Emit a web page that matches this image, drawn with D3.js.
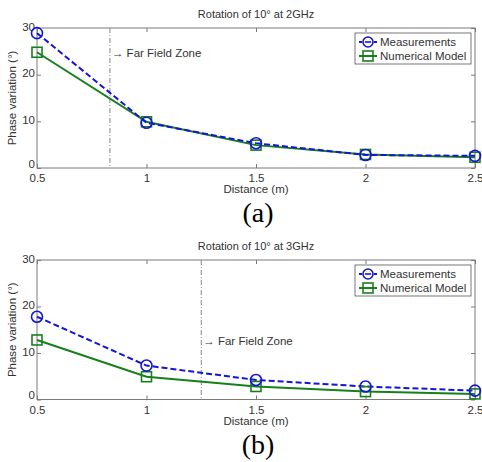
<!DOCTYPE html>
<html><head><meta charset="utf-8">
<script src="https://cdn.jsdelivr.net/npm/d3@7"></script>
<style>
body{margin:0;background:#fff;}
svg text{font-family:Arial,"Liberation Sans",sans-serif;}
</style></head>
<body><svg id="c" width="482" height="462"></svg>
<script>
const distances = [0.5, 1, 1.5, 2, 2.5];
const xTicks = [0.5, 1, 1.5, 2, 2.5];
const yTicks = [0, 10, 20, 30];
const meas2GHz = [28.9, 9.7, 5.3, 2.8, 2.6];
const model2GHz = [24.8, 9.9, 4.9, 2.9, 2.3];
const meas3GHz = [17.8, 7.3, 4.2, 2.8, 1.9];
const model3GHz = [12.8, 4.9, 2.8, 1.7, 1.2];
const titles = ["Rotation of 10\u00b0 at 2GHz", "Rotation of 10\u00b0 at 3GHz"];
const farField = [0.833, 1.25];
const captions = ["(a)", "(b)"];
const seriesNames = ["Measurements", "Numerical Model"];

const svg = d3.select("#c");
const blue = "#1515d8", green = "#17801a", axisCol = "#7a7a7a", txt = "#333";

function panel(top, bottom, meas, model, title, ff, caption) {
  const x = d3.scaleLinear().domain([0.5, 2.5]).range([37, 475]);
  const y = d3.scaleLinear().domain([0, 30]).range([bottom, top]);
  const g = svg.append("g");
  g.append("rect").attr("x", 37).attr("y", top).attr("width", 438).attr("height", bottom - top)
    .attr("fill", "#fff").attr("stroke", axisCol).attr("stroke-width", 1);
  const xa = g.append("g").attr("transform", `translate(0,${bottom})`)
    .call(d3.axisBottom(x).tickValues(xTicks).tickSize(-4).tickPadding(4).tickFormat(d3.format("")));
  const xt = g.append("g").attr("transform", `translate(0,${top})`)
    .call(d3.axisTop(x).tickValues(xTicks).tickSize(-4).tickFormat(""));
  const ya = g.append("g").attr("transform", `translate(37,0)`)
    .call(d3.axisLeft(y).tickValues(yTicks).tickSize(-4).tickPadding(2));
  const yr = g.append("g").attr("transform", `translate(475,0)`)
    .call(d3.axisRight(y).tickValues(yTicks).tickSize(-4).tickFormat(""));
  [xa, xt, ya, yr].forEach(a => {
    a.select(".domain").remove();
    a.selectAll("line").attr("stroke", axisCol);
    a.selectAll("text").attr("fill", txt).style("font-size", "11.5px");
  });
  xa.selectAll("text").attr("dy", "0.9em");
  ya.selectAll("text").attr("dy", "0.2em");
  ya.selectAll(".tick").filter(d => d === 0).select("text").attr("dy", "-0.05em");
  g.append("line").attr("x1", x(ff)).attr("x2", x(ff)).attr("y1", top).attr("y2", bottom)
    .attr("stroke", "#888").attr("stroke-width", 1).attr("stroke-dasharray", "5,2,1,2");
  const fy = top + (bottom - top) * (ff < 1 ? 0.18 : 0.58);
  g.append("text").attr("x", x(ff) + 2).attr("y", fy).attr("dy", "0.35em")
    .attr("fill", txt).style("font-size", "11.5px").text("\u2192 Far Field Zone");
  g.append("text").attr("x", 256).attr("y", top - 10).attr("text-anchor", "middle")
    .attr("fill", txt).style("font-size", "11px").text(title);
  g.append("text").attr("x", 256).attr("y", bottom + 25).attr("text-anchor", "middle")
    .attr("fill", txt).style("font-size", "11.5px").text("Distance (m)");
  g.append("text").attr("transform", `translate(16,${(top + bottom) / 2}) rotate(-90)`)
    .attr("text-anchor", "middle").attr("fill", txt).style("font-size", "11.5px")
    .text("Phase variation (\u00b0)");
  const line = d3.line().x((d, i) => x(distances[i])).y(d => y(d));
  g.append("path").datum(model).attr("d", line).attr("fill", "none")
    .attr("stroke", green).attr("stroke-width", 2);
  g.append("path").datum(meas).attr("d", line).attr("fill", "none")
    .attr("stroke", blue).attr("stroke-width", 2).attr("stroke-dasharray", "6,3");
  g.selectAll(".sq").data(model).enter().append("rect")
    .attr("x", (d, i) => x(distances[i]) - 5).attr("y", d => y(d) - 5)
    .attr("width", 10).attr("height", 10).attr("fill", "none").attr("stroke", green).attr("stroke-width", 1.6);
  g.selectAll(".ci").data(meas).enter().append("circle")
    .attr("cx", (d, i) => x(distances[i])).attr("cy", d => y(d)).attr("r", 5.5)
    .attr("fill", "none").attr("stroke", blue).attr("stroke-width", 1.6);
  const lx = 355, ly = top + 5;
  g.append("rect").attr("x", lx).attr("y", ly).attr("width", 116).attr("height", 31)
    .attr("fill", "#fff").attr("stroke", "#555").attr("stroke-width", 0.8);
  const ys = [ly + 9, ly + 23];
  g.append("line").attr("x1", lx + 4).attr("x2", lx + 22).attr("y1", ys[0]).attr("y2", ys[0])
    .attr("stroke", blue).attr("stroke-width", 2).attr("stroke-dasharray", "3,2");
  g.append("circle").attr("cx", lx + 13).attr("cy", ys[0]).attr("r", 5)
    .attr("fill", "#fff").attr("stroke", blue).attr("stroke-width", 1.6);
  g.append("line").attr("x1", lx + 13 - 3).attr("x2", lx + 13 + 3).attr("y1", ys[0]).attr("y2", ys[0])
    .attr("stroke", blue).attr("stroke-width", 1.6);
  g.append("line").attr("x1", lx + 4).attr("x2", lx + 22).attr("y1", ys[1]).attr("y2", ys[1])
    .attr("stroke", green).attr("stroke-width", 2);
  g.append("rect").attr("x", lx + 8).attr("y", ys[1] - 5).attr("width", 10).attr("height", 10)
    .attr("fill", "none").attr("stroke", green).attr("stroke-width", 1.6);
  seriesNames.forEach((n, i) => {
    g.append("text").attr("x", lx + 25).attr("y", ys[i]).attr("dy", "0.35em")
      .attr("fill", txt).style("font-size", "11.5px").text(n);
  });
  svg.append("text").attr("x", 258).attr("y", bottom + 54).attr("text-anchor", "middle")
    .style("font-family", "'Liberation Serif','Times New Roman',serif").style("font-size", "28px")
    .attr("fill", "#000").text(caption);
}
panel(28, 168, meas2GHz, model2GHz, titles[0], farField[0], captions[0]);
panel(260, 399.5, meas3GHz, model3GHz, titles[1], farField[1], captions[1]);
</script></body></html>
